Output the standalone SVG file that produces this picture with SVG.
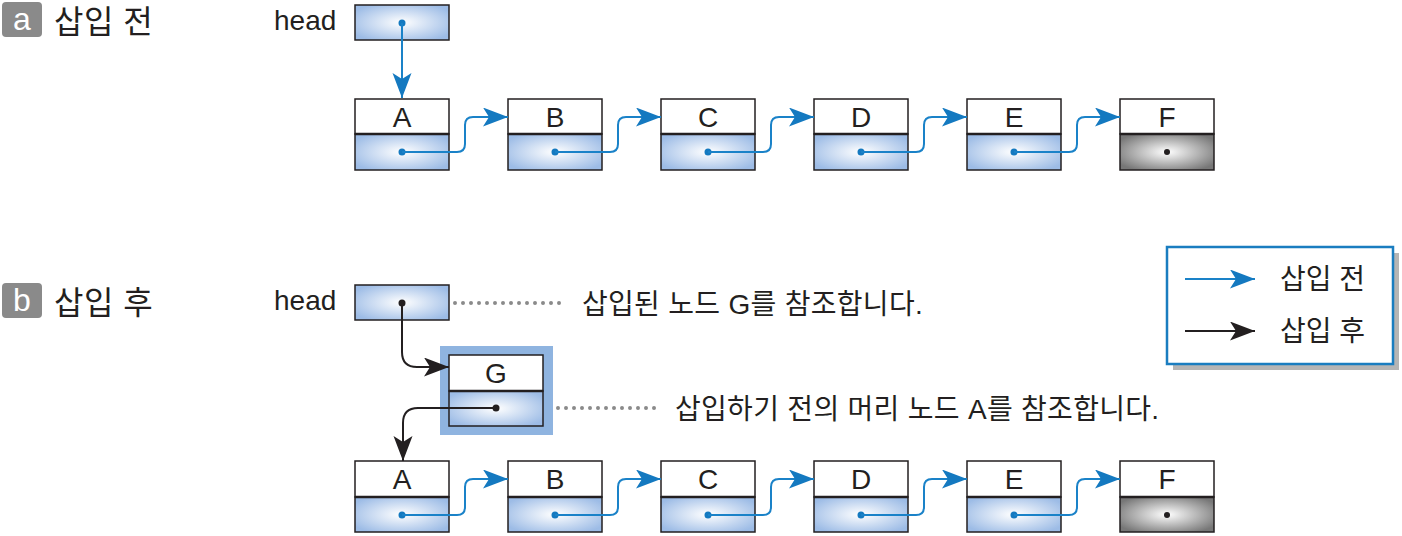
<svg xmlns="http://www.w3.org/2000/svg" width="1402" height="536" viewBox="0 0 1402 536">
<style>
.t{font-family:"Liberation Sans","Noto Sans CJK KR",sans-serif;fill:#231f20}
.k{font-family:"Liberation Sans","Noto Sans CJK KR",sans-serif;fill:#231f20;font-size:28px;letter-spacing:0.3px}
.lbl{font-family:"Liberation Sans",sans-serif;font-size:28px;fill:#231f20;text-anchor:middle}
.box{stroke:#231f20;stroke-width:1.5}
.div{stroke:#231f20;stroke-width:2.5}
.blue{fill:none;stroke:#1a82c8;stroke-width:2}
.black{fill:none;stroke:#231f20;stroke-width:2}
.dotb{fill:#1479c0}
.dotk{fill:#231f20}
.dots{fill:none;stroke:#8a8a8a;stroke-width:4;stroke-linecap:round;stroke-dasharray:0 8}
</style>
<defs>
<radialGradient id="gb" cx="50%" cy="50%" r="60%">
<stop offset="0" stop-color="#ffffff"/><stop offset="1" stop-color="#9dbce6"/>
</radialGradient>
<radialGradient id="gg" cx="50%" cy="50%" r="60%">
<stop offset="0" stop-color="#ffffff"/><stop offset="1" stop-color="#777777"/>
</radialGradient>
<marker id="ab" markerUnits="userSpaceOnUse" markerWidth="26" markerHeight="20" refX="25" refY="9.5" orient="auto" viewBox="0 0 26 20">
<path d="M0,0 L25,9.5 L0,19 L6,9.5 Z" fill="#1479c0"/>
</marker>
<marker id="ak" markerUnits="userSpaceOnUse" markerWidth="26" markerHeight="20" refX="25" refY="9.5" orient="auto" viewBox="0 0 26 20">
<path d="M0,0 L25,9.5 L0,19 L6,9.5 Z" fill="#231f20"/>
</marker>
</defs>

<!-- headings -->
<g id="title-a">
<rect x="2" y="2" width="40" height="35" rx="4" fill="#8a8a8a"/>
<text x="22" y="30" font-family="Liberation Sans,sans-serif" font-size="32" fill="#fff" text-anchor="middle">a</text>
<text class="t" x="54" y="33" font-size="32" letter-spacing="0.5">삽입 전</text>
</g>
<g id="title-b">
<rect x="2" y="283" width="40" height="35" rx="4" fill="#8a8a8a"/>
<text x="22" y="311" font-family="Liberation Sans,sans-serif" font-size="32" fill="#fff" text-anchor="middle">b</text>
<text class="t" x="54" y="314" font-size="32" letter-spacing="0.5">삽입 후</text>
</g>

<!-- part a -->
<g id="head-a">
<text class="t" x="274" y="30" font-size="28">head</text>
<rect class="box" x="355" y="5" width="94" height="35" fill="url(#gb)"/>
<circle class="dotb" cx="402" cy="23" r="3.5"/>
</g>
<g id="a-A"><rect class="box" x="355" y="99" width="94" height="35" fill="#fff"/><rect class="box" x="355" y="134" width="94" height="36" fill="url(#gb)"/><line class="div" x1="355" y1="134" x2="449" y2="134"/><text class="lbl" x="402" y="127">A</text><circle class="dotb" cx="402" cy="152" r="3.5"/></g>
<g id="a-B"><rect class="box" x="508" y="99" width="94" height="35" fill="#fff"/><rect class="box" x="508" y="134" width="94" height="36" fill="url(#gb)"/><line class="div" x1="508" y1="134" x2="602" y2="134"/><text class="lbl" x="555" y="127">B</text><circle class="dotb" cx="555" cy="152" r="3.5"/></g>
<g id="a-C"><rect class="box" x="661" y="99" width="94" height="35" fill="#fff"/><rect class="box" x="661" y="134" width="94" height="36" fill="url(#gb)"/><line class="div" x1="661" y1="134" x2="755" y2="134"/><text class="lbl" x="708" y="127">C</text><circle class="dotb" cx="708" cy="152" r="3.5"/></g>
<g id="a-D"><rect class="box" x="814" y="99" width="94" height="35" fill="#fff"/><rect class="box" x="814" y="134" width="94" height="36" fill="url(#gb)"/><line class="div" x1="814" y1="134" x2="908" y2="134"/><text class="lbl" x="861" y="127">D</text><circle class="dotb" cx="861" cy="152" r="3.5"/></g>
<g id="a-E"><rect class="box" x="967" y="99" width="94" height="35" fill="#fff"/><rect class="box" x="967" y="134" width="94" height="36" fill="url(#gb)"/><line class="div" x1="967" y1="134" x2="1061" y2="134"/><text class="lbl" x="1014" y="127">E</text><circle class="dotb" cx="1014" cy="152" r="3.5"/></g>
<g id="a-F"><rect class="box" x="1120" y="99" width="94" height="35" fill="#fff"/><rect class="box" x="1120" y="134" width="94" height="36" fill="url(#gg)"/><line class="div" x1="1120" y1="134" x2="1214" y2="134"/><text class="lbl" x="1167" y="127">F</text><circle class="dotk" cx="1167" cy="152" r="3"/></g>

<!-- part b -->
<g id="head-b">
<text class="t" x="274" y="310" font-size="28">head</text>
<rect class="box" x="355" y="285" width="94" height="35" fill="url(#gb)"/>
<circle class="dotk" cx="402" cy="303" r="3.5"/>
</g>
<g id="b-G">
<rect x="440" y="346" width="113" height="89" fill="#8fb4e0"/>
<rect class="box" x="449" y="355" width="94" height="36" fill="#fff"/><rect class="box" x="449" y="391" width="94" height="35" fill="url(#gb)"/><line class="div" x1="449" y1="391" x2="543" y2="391"/><text class="lbl" x="496" y="383">G</text><circle class="dotk" cx="496" cy="408" r="3.5"/>
</g>
<g id="b-A"><rect class="box" x="355" y="461" width="94" height="36" fill="#fff"/><rect class="box" x="355" y="497" width="94" height="35" fill="url(#gb)"/><line class="div" x1="355" y1="497" x2="449" y2="497"/><text class="lbl" x="402" y="489">A</text><circle class="dotb" cx="402" cy="515" r="3.5"/></g>
<g id="b-B"><rect class="box" x="508" y="461" width="94" height="36" fill="#fff"/><rect class="box" x="508" y="497" width="94" height="35" fill="url(#gb)"/><line class="div" x1="508" y1="497" x2="602" y2="497"/><text class="lbl" x="555" y="489">B</text><circle class="dotb" cx="555" cy="515" r="3.5"/></g>
<g id="b-C"><rect class="box" x="661" y="461" width="94" height="36" fill="#fff"/><rect class="box" x="661" y="497" width="94" height="35" fill="url(#gb)"/><line class="div" x1="661" y1="497" x2="755" y2="497"/><text class="lbl" x="708" y="489">C</text><circle class="dotb" cx="708" cy="515" r="3.5"/></g>
<g id="b-D"><rect class="box" x="814" y="461" width="94" height="36" fill="#fff"/><rect class="box" x="814" y="497" width="94" height="35" fill="url(#gb)"/><line class="div" x1="814" y1="497" x2="908" y2="497"/><text class="lbl" x="861" y="489">D</text><circle class="dotb" cx="861" cy="515" r="3.5"/></g>
<g id="b-E"><rect class="box" x="967" y="461" width="94" height="36" fill="#fff"/><rect class="box" x="967" y="497" width="94" height="35" fill="url(#gb)"/><line class="div" x1="967" y1="497" x2="1061" y2="497"/><text class="lbl" x="1014" y="489">E</text><circle class="dotb" cx="1014" cy="515" r="3.5"/></g>
<g id="b-F"><rect class="box" x="1120" y="461" width="94" height="36" fill="#fff"/><rect class="box" x="1120" y="497" width="94" height="35" fill="url(#gg)"/><line class="div" x1="1120" y1="497" x2="1214" y2="497"/><text class="lbl" x="1167" y="489">F</text><circle class="dotk" cx="1167" cy="515" r="3"/></g>

<g id="note-1">
<line class="dots" x1="455" y1="303" x2="567" y2="303"/>
<text class="k" x="582" y="314">삽입된 노드 G를 참조합니다.</text>
</g>
<g id="note-2">
<line class="dots" x1="558" y1="408" x2="662" y2="408"/>
<text class="k" x="675" y="419">삽입하기 전의 머리 노드 A를 참조합니다.</text>
</g>

<g id="legend">
<rect x="1173" y="253" width="226" height="117" fill="#b5b5b5"/>
<rect x="1167" y="247" width="226" height="117" fill="#fff" stroke="#1a7dc0" stroke-width="2.5"/>
<line class="blue" x1="1185" y1="279" x2="1255" y2="279" marker-end="url(#ab)"/>
<text class="t" x="1280" y="289" font-size="28">삽입 전</text>
<line class="black" x1="1185" y1="331" x2="1255" y2="331" marker-end="url(#ak)"/>
<text class="t" x="1280" y="341" font-size="28">삽입 후</text>
</g>

<g id="connectors">
<path class="blue" d="M402,23 V98" marker-end="url(#ab)"/>
<path class="blue" d="M402,152 H457 Q465,152 465,144 V125 Q465,117 473,117 H508" marker-end="url(#ab)"/>
<path class="blue" d="M555,152 H610 Q618,152 618,144 V125 Q618,117 626,117 H661" marker-end="url(#ab)"/>
<path class="blue" d="M708,152 H763 Q771,152 771,144 V125 Q771,117 779,117 H814" marker-end="url(#ab)"/>
<path class="blue" d="M861,152 H916 Q924,152 924,144 V125 Q924,117 932,117 H967" marker-end="url(#ab)"/>
<path class="blue" d="M1014,152 H1069 Q1077,152 1077,144 V125 Q1077,117 1085,117 H1120" marker-end="url(#ab)"/>
<path class="blue" d="M402,515 H457 Q465,515 465,507 V487 Q465,479 473,479 H508" marker-end="url(#ab)"/>
<path class="blue" d="M555,515 H610 Q618,515 618,507 V487 Q618,479 626,479 H661" marker-end="url(#ab)"/>
<path class="blue" d="M708,515 H763 Q771,515 771,507 V487 Q771,479 779,479 H814" marker-end="url(#ab)"/>
<path class="blue" d="M861,515 H916 Q924,515 924,507 V487 Q924,479 932,479 H967" marker-end="url(#ab)"/>
<path class="blue" d="M1014,515 H1069 Q1077,515 1077,507 V487 Q1077,479 1085,479 H1120" marker-end="url(#ab)"/>
<path class="black" d="M402,303 V352 Q402,367 417,367 H449" marker-end="url(#ak)"/>
<path class="black" d="M496,408 H418 Q403,408 403,423 V461" marker-end="url(#ak)"/>
</g>
</svg>
